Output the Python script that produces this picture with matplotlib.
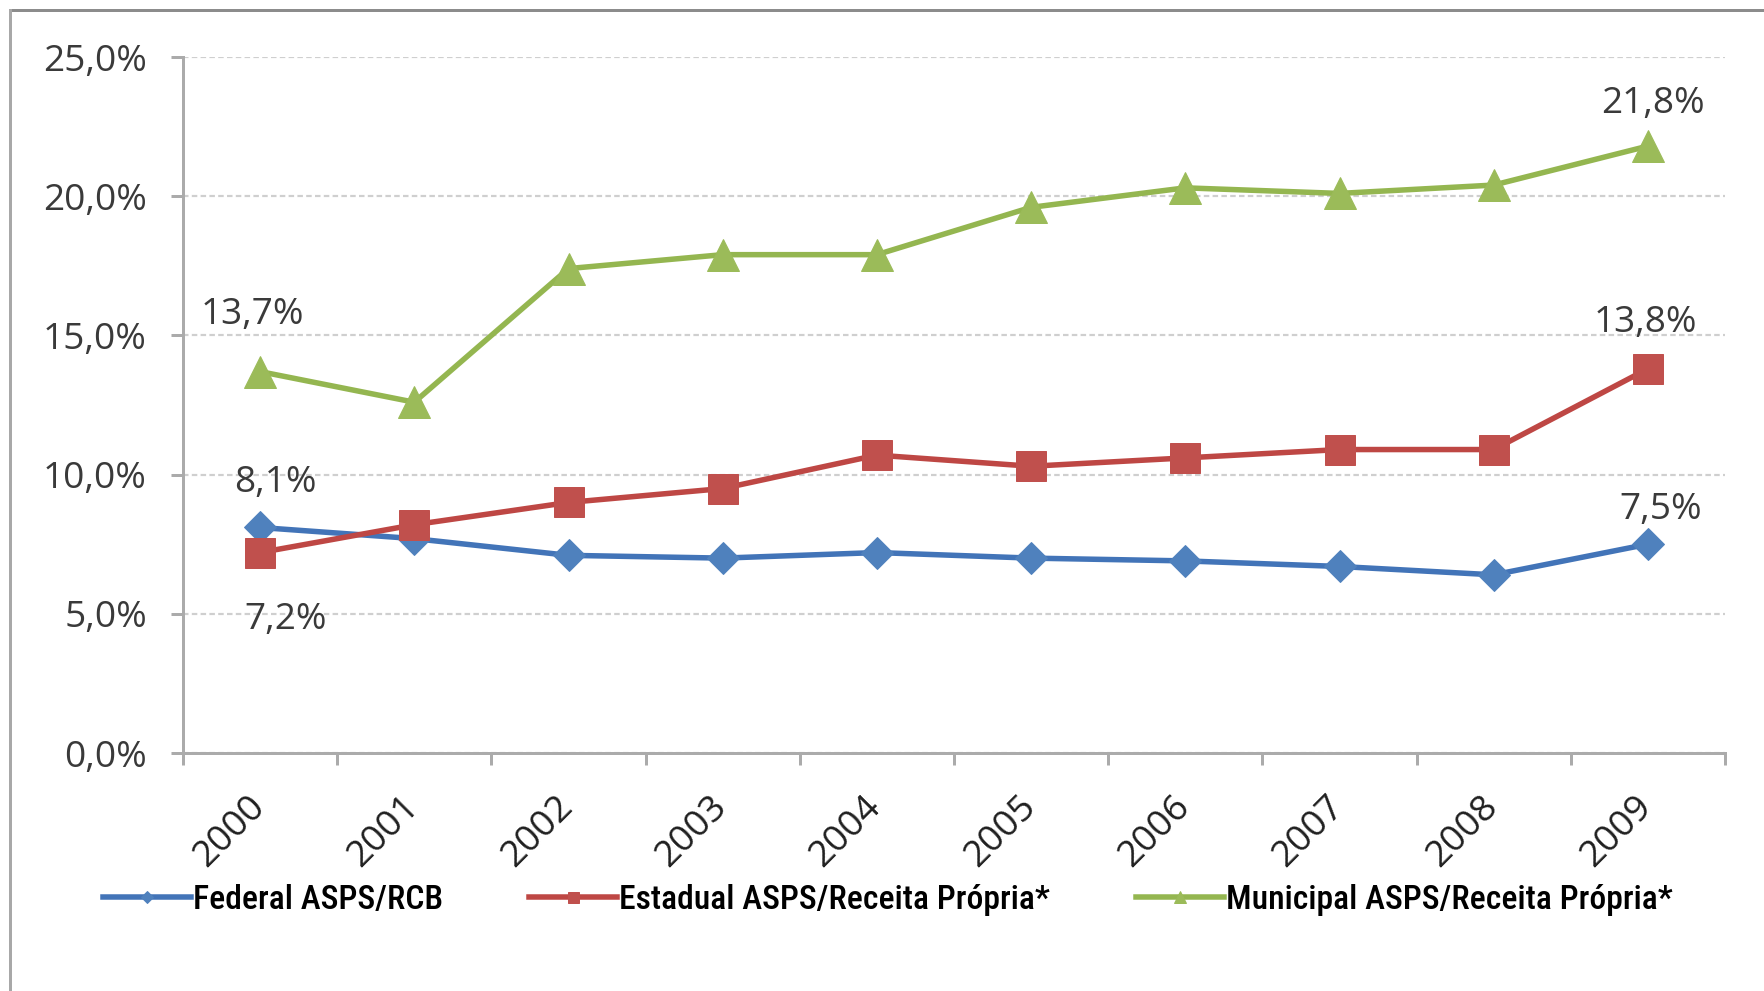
import matplotlib
matplotlib.use("Agg")
import matplotlib.pyplot as plt
import matplotlib.transforms as mtransforms
from matplotlib import font_manager
from matplotlib.lines import Line2D
from matplotlib.ticker import FuncFormatter, FixedLocator

# ---- data -------------------------------------------------------------
years = ["2000", "2001", "2002", "2003", "2004", "2005", "2006", "2007", "2008", "2009"]
federal = [8.1, 7.7, 7.1, 7.0, 7.2, 7.0, 6.9, 6.7, 6.4, 7.5]
estadual = [7.2, 8.2, 9.0, 9.5, 10.7, 10.3, 10.6, 10.9, 10.9, 13.8]
municipal = [13.7, 12.6, 17.4, 17.9, 17.9, 19.6, 20.3, 20.1, 20.4, 21.8]
series_names = ["Federal ASPS/RCB",
                "Estadual ASPS/Receita Própria*",
                "Municipal ASPS/Receita Própria*"]
y_ticks = [0, 5, 10, 15, 20, 25]

# ---- style ------------------------------------------------------------
DPI = 72  # 1 pt == 1 px
W, H = 1764, 991
blue_line, blue_mark = "#4274B8", "#4F81BD"
red_line, red_mark = "#BE4744", "#C0504D"
green_line, green_mark = "#94B650", "#9BBB59"
grid_col = "#CFCFCF"
axis_col = "#ABABAB"
txt_col = "#3A3A3A"
tick_font = ["Open Sans", "DejaVu Sans"]


def pick_legend_font():
    """Prefer a narrow face for the legend; fall back to Liberation Sans."""
    for fam in ["Liberation Sans Narrow", "Roboto Condensed",
                "DejaVu Sans Condensed", "Open Sans Condensed"]:
        try:
            font_manager.findfont(font_manager.FontProperties(family=fam),
                                  fallback_to_default=False)
            return fam, "medium"
        except Exception:
            pass
    return "Liberation Sans", "bold"


legend_family, legend_weight = pick_legend_font()

fig = plt.figure(figsize=(W / DPI, H / DPI), dpi=DPI)
ax = fig.add_axes([183 / W, (H - 753) / H, (1725 - 183) / W, (753 - 57) / H])

# size the legend font so the first entry spans ~249 px
renderer = fig.canvas.get_renderer()
probe = fig.text(0, 0, series_names[0], family=legend_family,
                 weight=legend_weight, size=30)
probe_w = probe.get_window_extent(renderer).width
probe.remove()
legend_size = min(34.0, 30 * 249 / probe_w)

x = list(range(len(years)))

styles = [
    (federal, blue_line, blue_mark, "D", 22, 5.5),
    (estadual, red_line, red_mark, "s", 30, 5.5),
    (municipal, green_line, green_mark, "^", 32, 5.5),
]
for i, (vals, lc, mc, mk, ms, lw) in enumerate(styles):
    ax.plot(x, vals, color=lc, lw=lw, marker=mk, ms=ms, markerfacecolor=mc,
            markeredgecolor=mc, markeredgewidth=1.0, zorder=3 + i,
            solid_joinstyle="round")

# ---- axes -------------------------------------------------------------
ax.set_xlim(-0.5, len(years) - 0.5)
ax.set_ylim(0, 25)
for s in ["top", "right"]:
    ax.spines[s].set_visible(False)
for s in ["left", "bottom"]:
    ax.spines[s].set_color(axis_col)
    ax.spines[s].set_linewidth(3)

ax.yaxis.set_major_locator(FixedLocator(y_ticks))
ax.yaxis.set_major_formatter(FuncFormatter(lambda v, p: f"{v:.1f}%".replace(".", ",")))
ax.tick_params(axis="y", direction="out", length=12, width=3, color=axis_col,
               pad=24, labelsize=37, labelcolor=txt_col)
for lab in ax.get_yticklabels():
    lab.set_family(tick_font)

ax.xaxis.set_major_locator(FixedLocator([v - 0.5 for v in range(len(years) + 1)]))
ax.xaxis.set_major_formatter(FuncFormatter(lambda v, p: ""))
ax.xaxis.set_minor_locator(FixedLocator(x))
ax.set_xticklabels(years, minor=True)
ax.tick_params(axis="x", which="major", direction="out", length=12, width=3,
               color=axis_col)
ax.tick_params(axis="x", which="minor", length=0, pad=36, labelsize=37,
               labelcolor="#202020")
shift = mtransforms.ScaledTranslation(12 / DPI, 0, fig.dpi_scale_trans)
for lab in ax.get_xticklabels(minor=True):
    lab.set_rotation(45)
    lab.set_ha("right")
    lab.set_va("top")
    lab.set_family(tick_font)
    lab.set_transform(lab.get_transform() + shift)

ax.grid(axis="y", color=grid_col, lw=2.2, linestyle=(0, (2.5, 1.5)))
ax.set_axisbelow(True)

# ---- value labels at the first and last year --------------------------
labels = [
    (municipal, 0, (-8, 57)),
    (federal, 0, (15, 44)),
    (estadual, 0, (26, -67)),
    (municipal, 9, (5, 42)),
    (estadual, 9, (-3, 46)),
    (federal, 9, (13, 34)),
]
for vals, idx, off in labels:
    ax.annotate(f"{vals[idx]:.1f}%".replace(".", ","), xy=(idx, vals[idx]),
                xytext=off, textcoords="offset points", ha="center", va="center",
                fontsize=37, color=txt_col, family=tick_font, zorder=10)

# ---- legend -----------------------------------------------------------
handles = [
    Line2D([], [], color=blue_line, lw=5.5, marker="D", ms=9,
           markerfacecolor=blue_mark, markeredgecolor=blue_mark),
    Line2D([], [], color=red_line, lw=5.5, marker="s", ms=11,
           markerfacecolor=red_mark, markeredgecolor=red_mark),
    Line2D([], [], color=green_line, lw=5.5, marker="^", ms=12,
           markerfacecolor=green_mark, markeredgecolor=green_mark),
]
fig.legend(handles, series_names, loc="center left",
           bbox_to_anchor=(103 / W, (H - 900) / H), ncol=3, frameon=False,
           borderpad=0, borderaxespad=0, handlelength=88 / legend_size,
           handletextpad=2 / legend_size, columnspacing=86 / legend_size,
           prop={"family": legend_family, "size": legend_size,
                 "weight": legend_weight})

# ---- outer frame (top and left edges) ---------------------------------
fig.add_artist(Line2D([10 / W, 1], [1 - 10 / H, 1 - 10 / H],
                      transform=fig.transFigure, color="#8C8C8C", lw=3))
fig.add_artist(Line2D([10 / W, 10 / W], [0, 1 - 10 / H],
                      transform=fig.transFigure, color="#A8A8A8", lw=3))

fig.savefig("out.png", dpi=DPI)
